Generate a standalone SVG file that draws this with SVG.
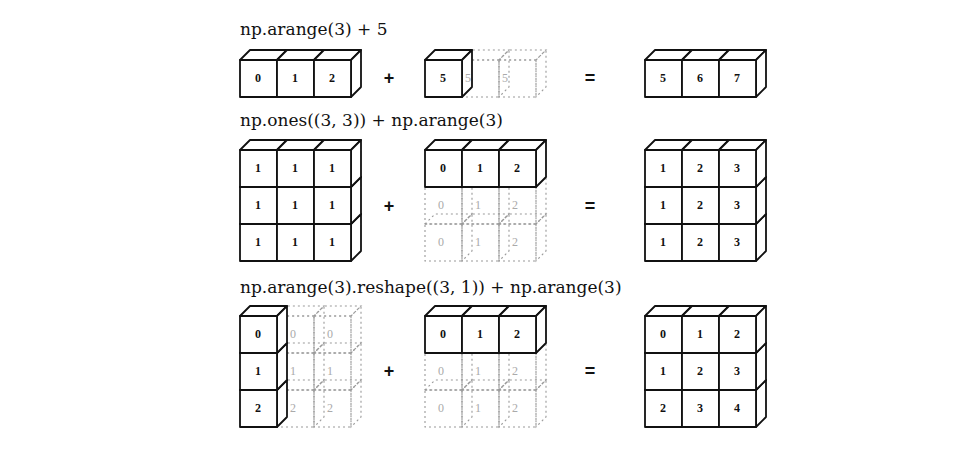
<svg xmlns="http://www.w3.org/2000/svg" xmlns:xlink="http://www.w3.org/1999/xlink" width="962" height="462" viewBox="0 0 962 462">
<style>
.s{fill:#fff;stroke:#111;stroke-width:1.8;stroke-linejoin:round}
.g{fill:none;stroke:#999;stroke-width:1.1;stroke-dasharray:2 3}
.t{font-family:"Liberation Serif","DejaVu Serif",serif;font-size:12px;text-anchor:middle;fill:#111;font-weight:bold}
.gt{font-family:"Liberation Serif","DejaVu Serif",serif;font-size:12px;text-anchor:middle;fill:#aaa}
.h{font-family:"DejaVu Serif","Liberation Serif",serif;font-size:17px;fill:#111}
.op{font-family:"Liberation Sans",sans-serif;font-size:18px;text-anchor:middle;fill:#111;font-weight:bold}
</style>
<defs>
<g id="c"><polygon class="s" points="0,0 10,-10 47,-10 37,0"/><polygon class="s" points="37,0 47,-10 47,27 37,37"/><rect class="s" x="0" y="0" width="37" height="37"/></g>
<g id="gc"><polygon class="g" points="0,0 10,-10 47,-10 37,0"/><polygon class="g" points="37,0 47,-10 47,27 37,37"/><rect class="g" x="0" y="0" width="37" height="37"/></g>
</defs>
<g id="titles">
<text class="h" x="240" y="35">np.arange(3) + 5</text>
<text class="h" x="240" y="126">np.ones((3, 3)) + np.arange(3)</text>
<text class="h" x="240" y="293">np.arange(3).reshape((3, 1)) + np.arange(3)</text>
</g>
<g id="ops">
<text class="op" x="389" y="84">+</text><text class="op" x="590" y="84">=</text>
<text class="op" x="389" y="212">+</text><text class="op" x="590" y="212">=</text>
<text class="op" x="389" y="377">+</text><text class="op" x="590" y="377">=</text>
</g>
<g id="row1-a"><use href="#c" x="240" y="60"/><use href="#c" x="277" y="60"/><use href="#c" x="314" y="60"/>
<text class="t" x="258" y="82">0</text><text class="t" x="295" y="82">1</text><text class="t" x="332" y="82">2</text></g>
<g id="row1-b"><use href="#gc" x="499" y="60"/><use href="#gc" x="462" y="60"/><use href="#c" x="425" y="60"/>
<text class="t" x="443" y="82">5</text><text class="gt" x="468" y="82">5</text><text class="gt" x="505" y="82">5</text></g>
<g id="row1-c"><use href="#c" x="645" y="60"/><use href="#c" x="682" y="60"/><use href="#c" x="719" y="60"/>
<text class="t" x="663" y="82">5</text><text class="t" x="700" y="82">6</text><text class="t" x="737" y="82">7</text></g>

<g id="row2-a">
<use href="#c" x="240" y="224"/><use href="#c" x="277" y="224"/><use href="#c" x="314" y="224"/>
<use href="#c" x="240" y="187"/><use href="#c" x="277" y="187"/><use href="#c" x="314" y="187"/>
<use href="#c" x="240" y="150"/><use href="#c" x="277" y="150"/><use href="#c" x="314" y="150"/>
<text class="t" x="258" y="172">1</text><text class="t" x="295" y="172">1</text><text class="t" x="332" y="172">1</text>
<text class="t" x="258" y="209">1</text><text class="t" x="295" y="209">1</text><text class="t" x="332" y="209">1</text>
<text class="t" x="258" y="246">1</text><text class="t" x="295" y="246">1</text><text class="t" x="332" y="246">1</text>
</g>
<g id="row2-b">
<use href="#gc" x="425" y="224"/><use href="#gc" x="462" y="224"/><use href="#gc" x="499" y="224"/>
<use href="#gc" x="425" y="187"/><use href="#gc" x="462" y="187"/><use href="#gc" x="499" y="187"/>
<use href="#c" x="425" y="150"/><use href="#c" x="462" y="150"/><use href="#c" x="499" y="150"/>
<text class="t" x="443" y="172">0</text><text class="t" x="480" y="172">1</text><text class="t" x="517" y="172">2</text>
<text class="gt" x="441" y="209">0</text><text class="gt" x="478" y="209">1</text><text class="gt" x="515" y="209">2</text>
<text class="gt" x="441" y="246">0</text><text class="gt" x="478" y="246">1</text><text class="gt" x="515" y="246">2</text>
</g>
<g id="row2-c">
<use href="#c" x="645" y="224"/><use href="#c" x="682" y="224"/><use href="#c" x="719" y="224"/>
<use href="#c" x="645" y="187"/><use href="#c" x="682" y="187"/><use href="#c" x="719" y="187"/>
<use href="#c" x="645" y="150"/><use href="#c" x="682" y="150"/><use href="#c" x="719" y="150"/>
<text class="t" x="663" y="172">1</text><text class="t" x="700" y="172">2</text><text class="t" x="737" y="172">3</text>
<text class="t" x="663" y="209">1</text><text class="t" x="700" y="209">2</text><text class="t" x="737" y="209">3</text>
<text class="t" x="663" y="246">1</text><text class="t" x="700" y="246">2</text><text class="t" x="737" y="246">3</text>
</g>

<g id="row3-a">
<use href="#gc" x="277" y="390"/><use href="#gc" x="314" y="390"/>
<use href="#gc" x="277" y="353"/><use href="#gc" x="314" y="353"/>
<use href="#gc" x="277" y="316"/><use href="#gc" x="314" y="316"/>
<use href="#c" x="240" y="390"/><use href="#c" x="240" y="353"/><use href="#c" x="240" y="316"/>
<text class="t" x="258" y="338">0</text><text class="t" x="258" y="375">1</text><text class="t" x="258" y="412">2</text>
<text class="gt" x="293" y="338">0</text><text class="gt" x="330" y="338">0</text>
<text class="gt" x="293" y="375">1</text><text class="gt" x="330" y="375">1</text>
<text class="gt" x="293" y="412">2</text><text class="gt" x="330" y="412">2</text>
</g>
<g id="row3-b">
<use href="#gc" x="425" y="390"/><use href="#gc" x="462" y="390"/><use href="#gc" x="499" y="390"/>
<use href="#gc" x="425" y="353"/><use href="#gc" x="462" y="353"/><use href="#gc" x="499" y="353"/>
<use href="#c" x="425" y="316"/><use href="#c" x="462" y="316"/><use href="#c" x="499" y="316"/>
<text class="t" x="443" y="338">0</text><text class="t" x="480" y="338">1</text><text class="t" x="517" y="338">2</text>
<text class="gt" x="441" y="375">0</text><text class="gt" x="478" y="375">1</text><text class="gt" x="515" y="375">2</text>
<text class="gt" x="441" y="412">0</text><text class="gt" x="478" y="412">1</text><text class="gt" x="515" y="412">2</text>
</g>
<g id="row3-c">
<use href="#c" x="645" y="390"/><use href="#c" x="682" y="390"/><use href="#c" x="719" y="390"/>
<use href="#c" x="645" y="353"/><use href="#c" x="682" y="353"/><use href="#c" x="719" y="353"/>
<use href="#c" x="645" y="316"/><use href="#c" x="682" y="316"/><use href="#c" x="719" y="316"/>
<text class="t" x="663" y="338">0</text><text class="t" x="700" y="338">1</text><text class="t" x="737" y="338">2</text>
<text class="t" x="663" y="375">1</text><text class="t" x="700" y="375">2</text><text class="t" x="737" y="375">3</text>
<text class="t" x="663" y="412">2</text><text class="t" x="700" y="412">3</text><text class="t" x="737" y="412">4</text>
</g>
<g id="connectors"/>
</svg>
